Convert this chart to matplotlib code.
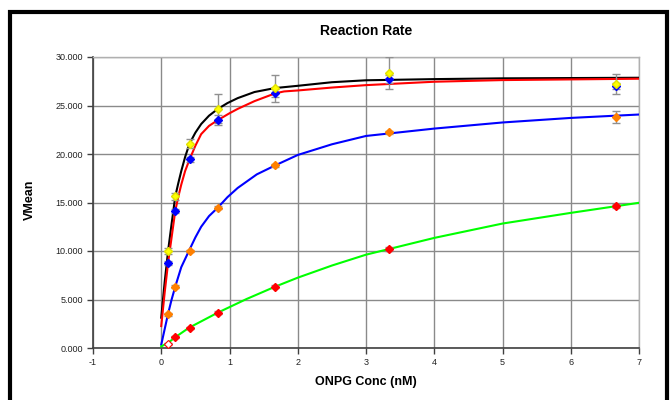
import matplotlib
matplotlib.use("Agg")
import matplotlib.pyplot as plt
from matplotlib.patches import Rectangle

plt.rcParams['font.family'] = ['Liberation Sans', 'DejaVu Sans']

# measured concentrations
conc = [0.104, 0.208, 0.417, 0.833, 1.667, 3.333, 6.667]

# marker series
yellow_pts = [10000, 15620, 21070, 24650, 26790, 28310, 27210]
yellow_err = [300, 400, 500, 1500, 1400, 1650, 1000]
blue_pts = [8780, 14130, 19440, 23500, 26250, 27760, 27000]
blue_err = [200, 250, 300, 500, 400, 400, 300]
orange_pts = [3470, 6320, 10000, 14480, 18820, 22240, 23830]
orange_err = [150, 150, 150, 200, 200, 150, 590]
red_pts = [420, 1110, 2080, 3650, 6320, 10240, 14620]
red_err = [100, 100, 100, 150, 150, 200, 200]

# fitted curves
black_x = [0, 0.05, 0.1, 0.146, 0.205, 0.25, 0.293, 0.35, 0.415, 0.5, 0.585, 0.7, 0.83, 0.97, 1.12, 1.366, 1.668,
           2, 2.5, 3, 4, 5, 6, 7]
black_y = [3125, 6800, 10000, 12500, 15620, 17000, 18230, 19700, 21075, 22200, 23090, 23950, 24650, 25250, 25760,
           26390, 26800, 27030, 27400, 27600, 27720, 27800, 27830, 27860]
red_x = [0, 0.05, 0.1, 0.146, 0.205, 0.25, 0.293, 0.35, 0.415, 0.5, 0.585, 0.7, 0.83, 1.0, 1.12, 1.366, 1.668,
         1.8, 2, 2.5, 3, 4, 5, 6, 7]
red_y = [2260, 5700, 8780, 11110, 14130, 15600, 16840, 18250, 19440, 20850, 22050, 22900, 23500, 24200, 24650,
         25450, 26250, 26450, 26550, 26850, 27100, 27450, 27620, 27690, 27760]
blue_x = [0, 0.049, 0.098, 0.15, 0.205, 0.293, 0.405, 0.5, 0.585, 0.7, 0.83, 0.97, 1.12, 1.4, 1.668, 2, 2.5, 3, 4,
          5, 6, 7]
blue_y = [350, 1910, 3470, 4950, 6320, 8330, 10000, 11400, 12500, 13600, 14480, 15550, 16500, 17900, 18820, 19900,
          21000, 21860, 22620, 23250, 23720, 24070]
green_x = [0, 0.098, 0.205, 0.405, 0.83, 1.25, 1.668, 2, 2.5, 3, 4, 5, 6, 7]
green_y = [170, 520, 1110, 2080, 3650, 5050, 6320, 7250, 8500, 9620, 11350, 12830, 13930, 14970]

xticks = [-1, 0, 1, 2, 3, 4, 5, 6, 7]
yticks = [0, 5000, 10000, 15000, 20000, 25000, 30000]
ytick_labels = ['0.000', '5.000', '10.000', '15.000', '20.000', '25.000', '30.000']

fig = plt.figure(figsize=(6.71, 4.00), dpi=100)
ax = fig.add_axes([93 / 671, 52 / 400, (639 - 93) / 671, (348 - 57) / 400])

ax.set_xlim(-1, 7)
ax.set_ylim(0, 30000)
ax.set_xticks(xticks)
ax.set_xticklabels([str(t) for t in xticks])
ax.set_yticks(yticks)
ax.set_yticklabels(ytick_labels)
ax.grid(True, color='#8a8a8a', linewidth=1)
ax.set_axisbelow(True)
ax.tick_params(labelsize=6.5, length=4, width=1, color='#404040', labelcolor='#222222', pad=3)
for side in ['left', 'bottom']:
    ax.spines[side].set_color('#404040')
    ax.spines[side].set_linewidth(1.2)
for side in ['top', 'right']:
    ax.spines[side].set_color('#b0b0b0')
    ax.spines[side].set_linewidth(1)

ax.plot(black_x, black_y, color='black', lw=1.5, zorder=3)
ax.plot(red_x, red_y, color='#ff0000', lw=1.5, zorder=3)
ax.plot(blue_x, blue_y, color='#0000ff', lw=1.5, zorder=3)
ax.plot(green_x, green_y, color='#00ff00', lw=1.5, zorder=3)

eb = dict(fmt='none', ecolor='#909090', elinewidth=1, capsize=3, capthick=1, zorder=4)
ax.errorbar(conc, yellow_pts, yerr=yellow_err, **eb)
ax.errorbar(conc, blue_pts, yerr=blue_err, **eb)
ax.errorbar(conc, orange_pts, yerr=orange_err, **eb)
ax.errorbar(conc, red_pts, yerr=red_err, **eb)

ax.plot(conc, blue_pts, 'D', color='#0000ff', ms=4, mec='#0000ff', zorder=5)
ax.plot(conc, yellow_pts, 'D', color='#ffff00', ms=4, mec='#e0e000', zorder=6)
ax.plot(conc, orange_pts, 'D', color='#ff8000', ms=4, mec='#ff8000', zorder=5)
ax.plot(conc[1:], red_pts[1:], 'D', color='#ff0000', ms=4, mec='#ff0000', zorder=5)
ax.plot(conc[:1], red_pts[:1], 'D', color='white', ms=4, mec='#ff0000', mew=0.8, zorder=5)

fig.text(366 / 671, 1 - 31 / 400, 'Reaction Rate', ha='center', va='center', fontsize=10, fontweight='bold')
fig.text(366 / 671, 1 - 382 / 400, 'ONPG Conc (nM)', ha='center', va='center', fontsize=9, fontweight='bold')
fig.text(30 / 671, 1 - 200 / 400, 'VMean', ha='center', va='center', rotation=90, fontsize=9, fontweight='bold')

fig.patches.append(Rectangle((10 / 671, -0.05), (667 - 10) / 671, (400 - 12) / 400 + 0.05,
                             transform=fig.transFigure, fill=False, edgecolor='black', linewidth=3))

fig.savefig('out.png', dpi=100)
